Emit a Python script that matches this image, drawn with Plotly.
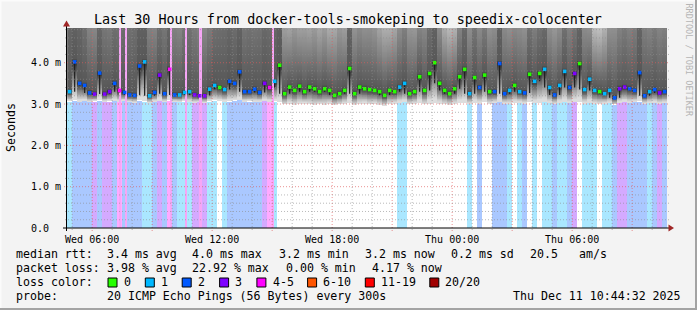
import numpy as np
import pandas as pd
import plotly.graph_objects as go

# ---------------- data ----------------
T_START = pd.Timestamp("2025-12-10 04:44:32")
T_END = pd.Timestamp("2025-12-11 10:44:32")
BIN_START = pd.Timestamp("2025-12-10 04:45:00")
BIN_MINUTES = 15
Y_TOP = 4.84  # ms, upper edge of the graph

# median round-trip time per 15-minute bin (ms)
rtt_median = [
    3.30, 4.02, 3.50, 3.45, 3.27, 3.24, 3.75, 3.24, 3.30, 3.50,
    3.33, 3.28, 3.22, 3.21, 3.92, 4.02, 3.20, 3.28, 3.70, 3.25,
    3.84, 3.22, 3.22, 3.28, 3.30, 3.22, 3.20, 3.20, 3.36, 3.45,
    3.40, 3.35, 3.55, 3.50, 3.78, 3.30, 3.30, 3.36, 3.28, 3.50,
    3.40, 3.55, 3.94, 3.25, 3.41, 3.33, 3.43, 3.30, 3.41, 3.37,
    3.30, 3.37, 3.33, 3.21, 3.25, 3.33, 3.86, 3.25, 3.41, 3.37,
    3.35, 3.33, 3.30, 3.21, 3.33, 3.30, 3.41, 3.50, 3.25, 3.30,
    3.66, 3.33, 3.74, 4.00, 3.50, 3.33, 3.25, 3.37, 3.66, 3.84,
    3.25, 3.64, 3.40, 3.70, 3.30, 3.30, 3.98, 3.25, 3.33, 3.45,
    3.30, 3.27, 3.72, 3.55, 3.74, 3.84, 3.40, 3.22, 3.45, 3.79,
    3.40, 3.74, 3.98, 3.35, 3.60, 3.33, 3.30, 3.25, 3.33, 3.15,
    3.37, 3.41, 3.37, 3.33, 3.76, 3.20, 3.30, 3.35, 3.27, 3.30,
]

# lost pings (of 20) per bin
loss_count = [
    1, 2, 2, 2, 2, 3, 2, 3, 3, 2,
    4, 2, 2, 2, 2, 1, 1, 2, 3, 2,
    4, 2, 1, 1, 1, 3, 3, 3, 1, 1,
    0, 1, 2, 2, 2, 2, 2, 2, 2, 3,
    4, 1, 0, 0, 0, 0, 0, 0, 0, 0,
    0, 0, 0, 0, 0, 0, 0, 0, 0, 0,
    0, 0, 0, 0, 0, 0, 1, 1, 0, 0,
    0, 0, 0, 0, 0, 0, 0, 0, 0, 0,
    1, 0, 2, 0, 0, 2, 2, 2, 1, 0,
    1, 2, 0, 1, 0, 1, 1, 2, 1, 1,
    2, 3, 0, 1, 1, 1, 0, 1, 1, 2,
    3, 3, 2, 2, 2, 2, 1, 2, 3, 2,
]

# fastest ping per bin (ms) - bottom edge of the smoke
smoke_lo = [
    3.06, 3.08, 3.05, 3.07, 3.04, 3.06, 3.08, 3.05, 3.06, 3.07,
    3.05, 3.07, 3.04, 3.03, 3.08, 3.06, 3.02, 3.05, 3.07, 3.04,
    3.08, 3.05, 3.04, 3.06, 3.05, 3.03, 3.04, 3.02, 3.06, 3.08,
    3.07, 3.05, 3.06, 3.08, 3.09, 3.05, 3.06, 3.04, 3.05, 3.07,
    3.05, 3.06, 3.04, 2.98, 3.00, 2.97, 2.99, 3.01, 2.98, 2.96,
    2.99, 2.97, 3.00, 2.96, 2.98, 3.00, 3.02, 2.97, 2.99, 3.01,
    2.98, 3.00, 2.97, 2.95, 2.99, 3.01, 3.03, 3.04, 2.99, 3.00,
    3.02, 2.98, 3.01, 3.03, 3.00, 2.98, 2.97, 2.99, 3.02, 3.03,
    3.00, 3.02, 3.01, 3.04, 3.00, 3.02, 3.05, 3.01, 3.00, 3.02,
    3.03, 3.01, 3.04, 3.02, 3.03, 3.05, 3.02, 3.00, 3.03, 3.04,
    3.02, 3.04, 3.05, 3.01, 3.03, 3.00, 2.99, 3.01, 3.02, 2.98,
    3.03, 3.05, 3.02, 3.04, 3.06, 3.01, 3.02, 3.03, 3.01, 3.02,
]

# slowest ping per bin (ms) - mostly far above the top of the graph
smoke_hi = [
    20, 16, 18, 12, 8.5, 8.2, 14, 11, 10, 12,
    12, 14, 13, 14, 18, 17, 9, 8.5, 11, 11,
    15, 9, 8.5, 11, 12, 10, 9, 8.2, 9.5, 12,
    13, 14, 16, 13, 18, 11, 12, 11, 12, 15,
    14, 16, 20, 6.6, 6.2, 6.8, 6.3, 6.5, 6.2, 6.6,
    6.2, 6.5, 6.0, 6.2, 6.9, 6.5, 15, 7.2, 7.6, 7.2,
    7.3, 7.0, 6.3, 6.0, 5.9, 6.2, 7.4, 8.5, 7.0, 6.8,
    7.6, 8.0, 11, 16, 7.4, 6.0, 5.7, 5.8, 7.6, 12,
    7.6, 9.5, 7.6, 8.5, 7.2, 7.6, 16, 8.0, 7.3, 7.6,
    7.6, 7.3, 10, 8.5, 10, 12, 7.2, 7.0, 7.3, 10,
    8.5, 9, 14, 7.6, 6.9, 5.6, 5.5, 5.9, 7.2, 7.6,
    8.5, 9.5, 8.5, 9.5, 16, 9.5, 8.5, 9.5, 8.5, 9,
]

# 5-minute steps with 4-5 lost pings (full-height stripes)
loss45_steps = ["2025-12-10 07:20", "2025-12-10 07:40", "2025-12-10 09:55",
                "2025-12-10 10:40", "2025-12-10 11:20", "2025-12-10 11:25",
                "2025-12-10 15:00"]

LOSS_UPPER = [0, 1, 2, 3, 5, 10, 19, 20]
LOSS_LABELS = ["0", "1", "2", "3", "4-5", "6-10", "11-19", "20/20"]
LOSS_COLORS = ["#26ff00", "#00b8ff", "#0059ff", "#7e00ff", "#ff00ff",
               "#ff5500", "#ff0000", "#a00000"]

x_ticks = pd.date_range("2025-12-10 06:00", "2025-12-11 06:00", freq="6h")
y_ticks = [0, 1, 2, 3, 4]
y_ticktext = ["0.0\u00a0\u00a0", "1.0 m", "2.0 m", "3.0 m", "4.0 m"]

legend_rows = [
    [("median rtt:", 16), ("3.4 ms avg", 107), ("4.0 ms max", 192), ("3.2 ms min", 279),
     ("3.2 ms now", 365), ("0.2 ms sd", 451), ("20.5", 530), ("am/s", 579)],
    [("packet loss:", 16), ("3.98 % avg", 107), ("22.92 % max", 192),
     ("0.00 % min", 286), ("4.17 % now", 372)],
    [("loss color:", 16)],
    [("probe:", 16), ("20 ICMP Echo Pings (56 Bytes) every 300s", 107)],
]
legend_row_y = [254, 268, 282, 296]
swatch_x = [108, 145.3, 182.2, 219.6, 256.9, 307.6, 365.3, 429.8]
date_text = "Thu Dec 11 10:44:32 2025"
title_text = "Last 30 Hours from docker-tools-smokeping to speedix-colocenter"

# ---------------- geometry helpers ----------------
W, H = 697, 310
PL, PR, PT, PB = 67, 667, 28, 228
FONT = "DejaVu Sans Mono"


def px(xp):
    return (xp - PL) / (PR - PL)


def py(yp):
    return (PB - yp) / (PB - PT)


def level_of(c):
    for i, u in enumerate(LOSS_UPPER):
        if c <= u:
            return i
    return len(LOSS_UPPER) - 1


def blend(hexcol, a=1 / 3):
    r, g, b = int(hexcol[1:3], 16), int(hexcol[3:5], 16), int(hexcol[5:7], 16)
    f = lambda v: int(round(255 * (1 - a) + v * a))
    return f"rgb({f(r)},{f(g)},{f(b)})"


n = len(rtt_median)
centers = [BIN_START + pd.Timedelta(minutes=BIN_MINUTES * i + BIN_MINUTES / 2) for i in range(n)]
levels = [level_of(c) for c in loss_count]
med = np.array(rtt_median)
lo = np.array(smoke_lo)
hi = np.array(smoke_hi)

# smoke shading (smokeping style: shade by number of pings beyond each height;
# two pings sit right next to the median, the others spread up to the slowest)
y_grid = np.arange(2.90, Y_TOP + 0.02, 0.02)
Y = y_grid[:, None]
NEAR = 0.08
k_up = np.where(Y < med + NEAR, 10 - 2 * (Y - med) / NEAR,
                8 * (hi - Y) / (hi - med - NEAR))
k_dn = 10 * (Y - lo) / (med - lo)
k = np.where(Y >= med, k_up, k_dn)
shade = 221 - 19 * (np.clip(k, 1, 10) - 1)
z = np.where(k > 0, shade, np.nan)

fig = go.Figure()

# loss background bars (up to the smoke)
bg_colors = [blend(LOSS_COLORS[l]) if l > 0 else "rgba(0,0,0,0)" for l in levels]
fig.add_trace(go.Bar(x=centers, y=smoke_lo, width=BIN_MINUTES * 60000,
                     marker=dict(color=bg_colors, line=dict(width=0)),
                     hoverinfo="skip", showlegend=False))

# smoke
fig.add_trace(go.Heatmap(x=centers, y=y_grid, z=z, zmin=0, zmax=255,
                         colorscale=[[0, "rgb(0,0,0)"], [1, "rgb(255,255,255)"]],
                         showscale=False, hoverinfo="skip", zsmooth=False))

# 4-5 loss stripes
stripe_x = [pd.Timestamp(t) + pd.Timedelta(minutes=2.5) for t in loss45_steps]
fig.add_trace(go.Bar(x=stripe_x, y=[Y_TOP] * len(stripe_x), width=6 * 60000,
                     marker=dict(color="rgb(246,166,246)", line=dict(width=0)),
                     hoverinfo="skip", showlegend=False))

# median
drop = []
for i in range(n):
    nb = [med[j] for j in (i - 1, i + 1) if 0 <= j < n]
    drop.append(max(0.0, med[i] - min(nb)))
fig.add_trace(go.Scatter(x=centers, y=rtt_median, mode="markers",
                         marker=dict(symbol="square", size=3.6,
                                     color=[LOSS_COLORS[l] for l in levels],
                                     line=dict(width=0)),
                         error_y=dict(type="data", symmetric=False, array=[0] * n,
                                      arrayminus=drop, color="#1e1e1e",
                                      thickness=1.2, width=0),
                         hoverinfo="skip", showlegend=False))

shapes = []
# grid
hours = pd.date_range(T_START.ceil("h"), T_END, freq="h")
for h in hours:
    major = h.hour % 3 == 0
    shapes.append(dict(type="line", xref="x", yref="paper", x0=h, x1=h,
                       y0=-(3 if major else 2) / 200, y1=1, layer="above",
                       line=dict(color="rgba(225,90,90,0.65)" if major else "rgba(140,140,140,0.6)",
                                 width=1, dash="1px,2px")))
for j in range(1, 25):
    v = j * 0.2
    major = j % 5 == 0
    shapes.append(dict(type="line", xref="paper", yref="y", x0=px(64 if major else 65),
                       x1=px(669), y0=v, y1=v, layer="above",
                       line=dict(color="rgba(225,90,90,0.65)" if major else "rgba(140,140,140,0.6)",
                                 width=1, dash="1px,2px")))
# axes + arrows
shapes.append(dict(type="line", xref="paper", yref="paper", x0=px(63), x1=px(669),
                   y0=py(228), y1=py(228), layer="above", line=dict(color="black", width=1)))
shapes.append(dict(type="line", xref="paper", yref="paper", x0=px(66.5), x1=px(66.5),
                   y0=py(231), y1=py(25), layer="above", line=dict(color="black", width=1)))
arrow = "#a02626"
shapes.append(dict(type="path", xref="paper", yref="paper", layer="above",
                   path=f"M{px(668.5)},{py(224.5)} L{px(674)},{py(228)} L{px(668.5)},{py(231.5)} Z",
                   fillcolor=arrow, line=dict(width=0)))
shapes.append(dict(type="path", xref="paper", yref="paper", layer="above",
                   path=f"M{px(63)},{py(26.5)} L{px(66.5)},{py(20.5)} L{px(70)},{py(26.5)} Z",
                   fillcolor=arrow, line=dict(width=0)))
# frame
shapes.append(dict(type="rect", xref="paper", yref="paper", x0=px(0), x1=px(697),
                   y0=py(0), y1=py(1.5), fillcolor="#fbfbfb", line=dict(width=0), layer="above"))
shapes.append(dict(type="rect", xref="paper", yref="paper", x0=px(0), x1=px(1.5),
                   y0=py(0), y1=py(310), fillcolor="#fbfbfb", line=dict(width=0), layer="above"))
shapes.append(dict(type="rect", xref="paper", yref="paper", x0=px(695), x1=px(697),
                   y0=py(0), y1=py(310), fillcolor="#a3a3a3", line=dict(width=0), layer="above"))
shapes.append(dict(type="rect", xref="paper", yref="paper", x0=px(0), x1=px(697),
                   y0=py(308), y1=py(310), fillcolor="#a3a3a3", line=dict(width=0), layer="above"))
# legend swatches
for sx, col in zip(swatch_x, LOSS_COLORS):
    shapes.append(dict(type="rect", xref="paper", yref="paper", x0=px(sx), x1=px(sx + 9),
                       y0=py(278), y1=py(287), fillcolor=col, layer="above",
                       line=dict(color="black", width=1)))

ann = []


def text(t, xp, yp, size=11.6, xanchor="left", color="black", angle=0):
    ann.append(dict(text=t, x=px(xp), y=py(yp), xref="paper", yref="paper",
                    xanchor=xanchor, yanchor="middle", showarrow=False,
                    textangle=angle, borderpad=0, borderwidth=0,
                    font=dict(family=FONT, size=size, color=color)))


text(title_text, 347.5, 19, size=13.4, xanchor="center")
text("Seconds", 11, 128, angle=-90, xanchor="center")
text("RRDTOOL / TOBI OETIKER", 688.5, 60, size=8.5, xanchor="center", color="#b5b5b5", angle=90)
for row, yy in zip(legend_rows, legend_row_y):
    for t, xx in row:
        text(t, xx, yy)
for sx, lab in zip(swatch_x, LOSS_LABELS):
    text(lab, sx + 15.6, 282)
text(date_text, 681, 296, xanchor="right")

fig.update_layout(
    width=W, height=H, autosize=False,
    margin=dict(l=PL, r=W - PR, t=PT, b=H - PB, pad=0),
    paper_bgcolor="#f3f3f3", plot_bgcolor="white",
    barmode="overlay", bargap=0, showlegend=False,
    shapes=shapes, annotations=ann,
    font=dict(family=FONT, color="black"),
    xaxis=dict(type="date", range=[T_START, T_END], showgrid=False, zeroline=False,
               showline=False, tickvals=list(x_ticks),
               ticktext=[t.strftime("%a %H:%M") for t in x_ticks],
               ticks="outside", ticklen=2, tickcolor="rgba(0,0,0,0)",
               tickfont=dict(family=FONT, size=10, color="black")),
    yaxis=dict(range=[0, Y_TOP], showgrid=False, zeroline=False, showline=False,
               tickvals=y_ticks, ticktext=y_ticktext,
               ticks="outside", ticklen=3, tickcolor="rgba(0,0,0,0)",
               tickfont=dict(family=FONT, size=10, color="black")),
)

fig.write_html("out.html")
